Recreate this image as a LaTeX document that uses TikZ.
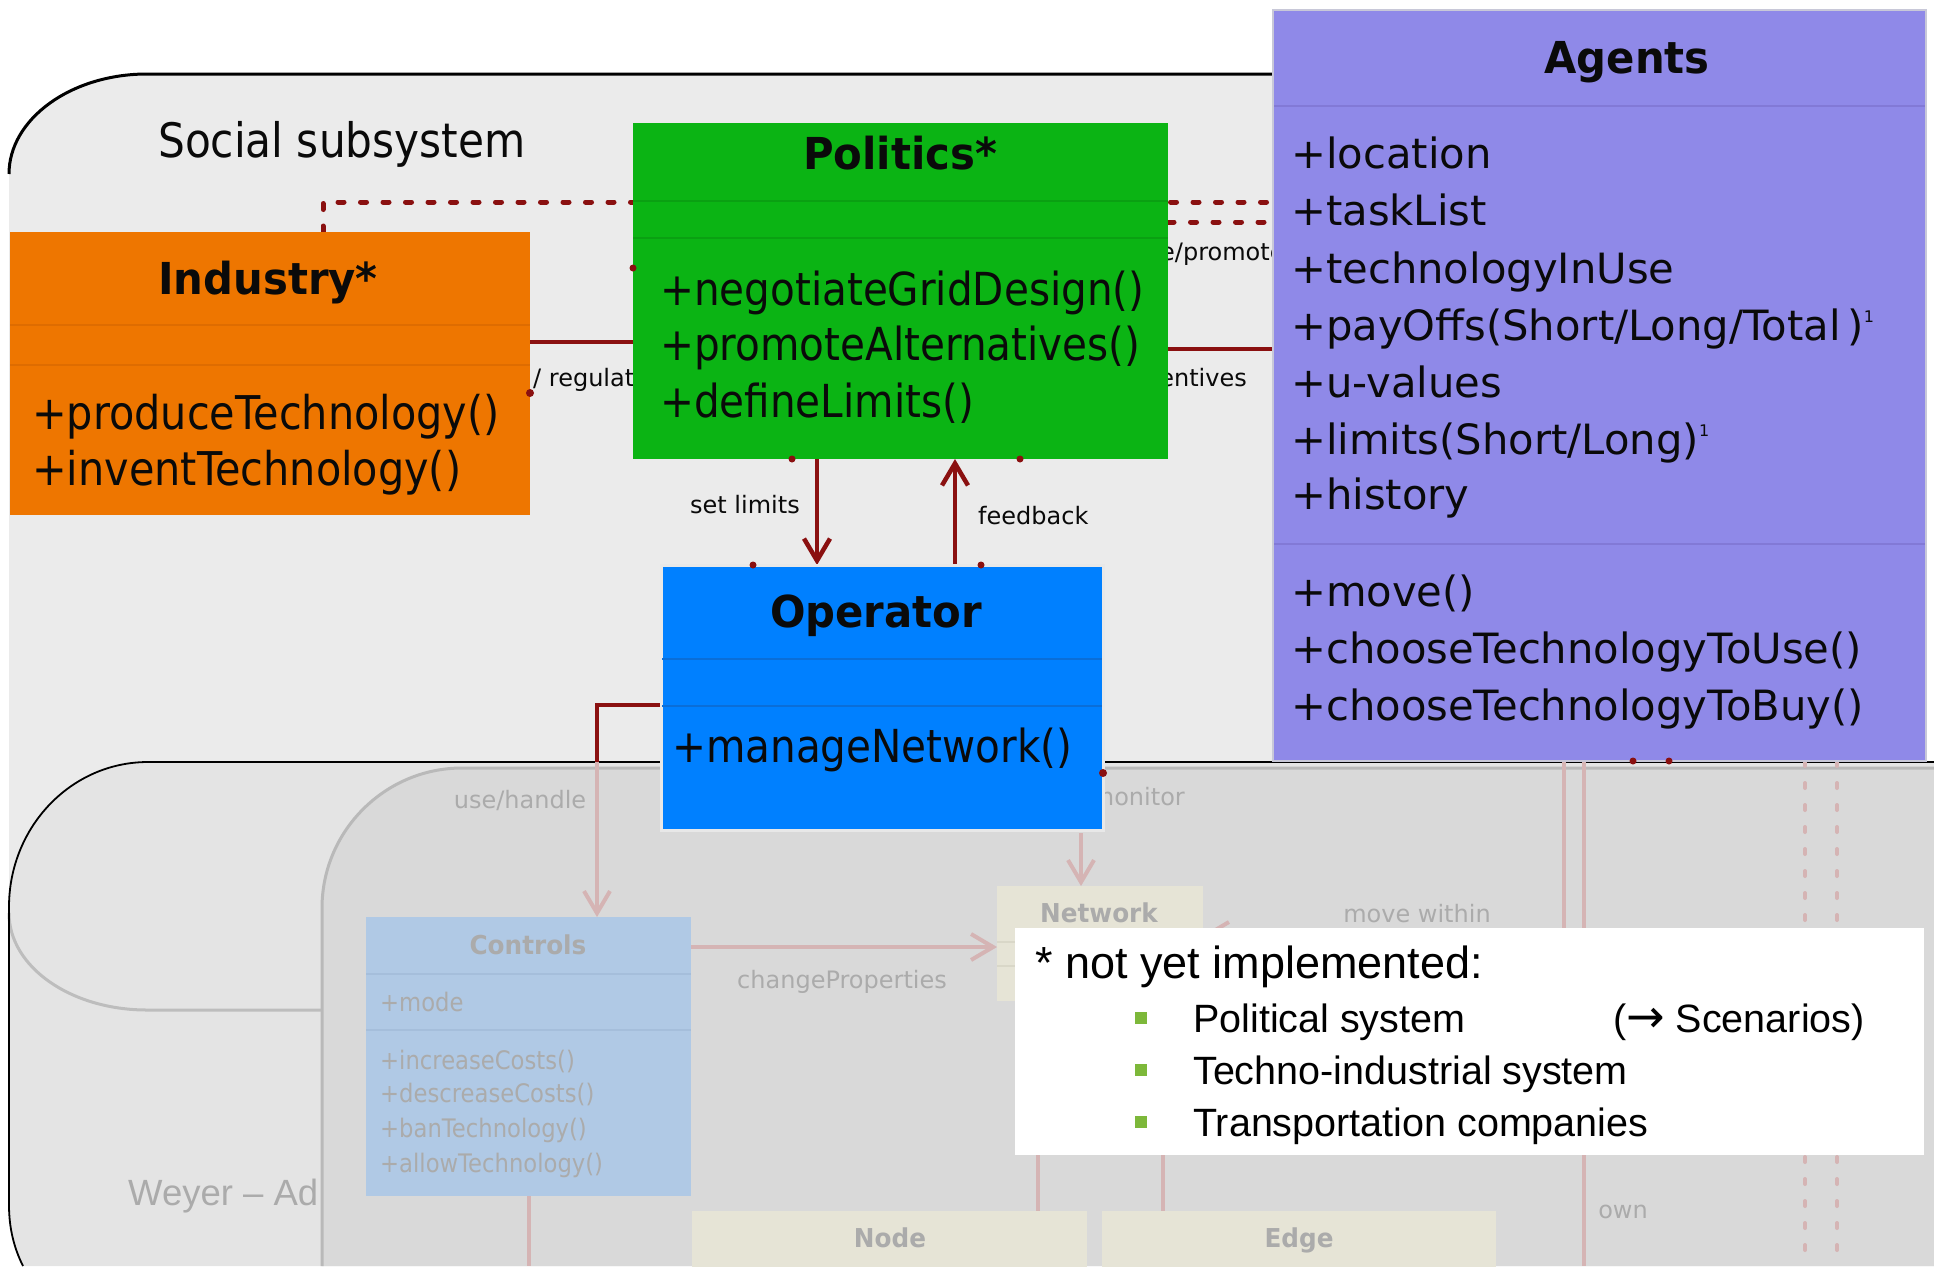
\documentclass[tikz,border=0pt]{standalone}
\usepackage{fontspec}
\usetikzlibrary{arrows.meta}
\newfontfamily\tahfont{DejaVu Sans}[FakeStretch=0.89]
\newfontfamily\tahbfont{DejaVu Sans}[FakeStretch=0.95]
\newfontfamily\verfont{DejaVu Sans}
\newfontfamily\arifont{Liberation Sans}
\definecolor{socbg}{HTML}{EBEBEB}
\definecolor{lowbg}{HTML}{E4E4E4}
\definecolor{innbg}{HTML}{D9D9D9}
\definecolor{innln}{HTML}{B9B9B9}
\definecolor{fadeln}{HTML}{BDBDBD}
\definecolor{indc}{HTML}{EE7600}
\definecolor{indl}{HTML}{DE6C00}
\definecolor{polc}{HTML}{0BB414}
\definecolor{poll}{HTML}{0AA012}
\definecolor{opc}{HTML}{0080FF}
\definecolor{opl}{HTML}{0A6ED8}
\definecolor{opbd}{HTML}{E8E8E8}
\definecolor{agc}{HTML}{8F89E8}
\definecolor{agl}{HTML}{8279D6}
\definecolor{agbd}{HTML}{C8C8D8}
\definecolor{ctlc}{HTML}{B0C9E5}
\definecolor{ctll}{HTML}{A5BEDB}
\definecolor{netc}{HTML}{E6E4D6}
\definecolor{netl}{HTML}{D9D7C8}
\definecolor{dred}{HTML}{8A1010}
\definecolor{pnk}{HTML}{D5B4B4}
\definecolor{fadetx}{HTML}{ABABAB}
\definecolor{bulgr}{HTML}{7DB83A}
\definecolor{txk}{HTML}{0A0A0A}
\newcommand\fmeth{\tahfont\fontsize{45.5}{55}\selectfont}
\newcommand\fmethi{\tahfont\fontsize{46.5}{55}\selectfont}
\newcommand\fttl{\tahbfont\bfseries\fontsize{44}{50}\selectfont}
\newcommand\fagt{\verfont\fontsize{41.7}{50}\selectfont}
\newcommand\fsoc{\tahfont\fontsize{47.5}{55}\selectfont}
\newcommand\flbl{\verfont\fontsize{24}{28}\selectfont}
\newcommand\ffd{\tahfont\fontsize{25.5}{30}\selectfont}
\newcommand\ffdb{\tahbfont\bfseries\fontsize{26}{30}\selectfont}
\newcommand\fwey{\arifont\fontsize{36.5}{40}\selectfont}
\newcommand\fnoteh{\arifont\fontsize{45}{52}\selectfont}
\newcommand\fnotei{\arifont\fontsize{39.5}{46}\selectfont}
\newcommand\supone{\raisebox{18pt}{\verfont\fontsize{16}{16}\selectfont 1}}
\begin{document}
\begin{tikzpicture}[x=1pt,y=-1pt,
  box/.style={inner sep=0, outer sep=0, draw=none, anchor=north west},
  tx/.style={inner sep=0, anchor=base west, text=txk},
  tc/.style={inner sep=0, anchor=base, text=txk},
  fx/.style={inner sep=0, anchor=base west, text=fadetx},
  fc/.style={inner sep=0, anchor=base, text=fadetx},
  redln/.style={draw=dred, line width=4.5},
  reddot/.style={draw=dred, line width=5, line cap=round, dash pattern=on 6pt off 16.5pt},
  pkln/.style={draw=pnk, line width=4},
  pkdash/.style={draw=pnk, line width=4, line cap=round, dash pattern=on 5pt off 17pt},
  arr/.style={-{Straight Barb[length=22pt,width=26pt]}},
  cmp/.style={line width=2}
]
\useasboundingbox (0,0) rectangle (1934,1266);
\fill[white] (0,0) rectangle (1934,1266);

% social subsystem
\fill[socbg] (9,174) .. controls (9,119) and (71,74) .. (147,74) -- (1905,74) -- (1905,1010) -- (147,1010) .. controls (71,1010) and (9,967) .. (9,913) -- cycle;
\draw[line width=3] (9,174) .. controls (9,119) and (71,74) .. (147,74) -- (1280,74);
\node[tx] (soc) at (158,157) {\fsoc Social subsystem};

% lower (faded) region
\fill[lowbg] (23,1266) .. controls (14,1248) and (9,1228) .. (9,1205) -- (9,907) .. controls (9,827) and (71,762) .. (148,762) -- (1934,762) -- (1934,1266) -- cycle;
\node[fx] (wey) at (128,1205) {\fwey Weyer – Ad};
\draw[fadeln, line width=3] (9,913) .. controls (9,967) and (71,1010) .. (147,1010) -- (322,1010);
\fill[innbg] (322,1266) -- (322,908) .. controls (322,831) and (385,768) .. (462,768) -- (1934,768) -- (1934,1266) -- cycle;
\draw[innln, line width=3] (322,1266) -- (322,908) .. controls (322,831) and (385,768) .. (462,768) -- (1934,768);
\draw[line width=1.8] (23,1266) .. controls (14,1248) and (9,1228) .. (9,1205) -- (9,907) .. controls (9,827) and (71,762) .. (148,762) -- (1934,762);

% faded boxes
\node[box, fill=ctlc, minimum width=325, minimum height=279] (ctl) at (366,917) {};
\draw[ctll, cmp] (366,974) -- (691,974);
\draw[ctll, cmp] (366,1030) -- (691,1030);
\node[fc] (ctlT) at (528,954) {\ffdb Controls};
\node[fx] (ctl1) at (380,1011) {\ffd +mode};
\node[fx] (ctl2) at (380,1069) {\ffd +increaseCosts()};
\node[fx] (ctl3) at (380,1102) {\ffd +descreaseCosts()};
\node[fx] (ctl4) at (380,1137) {\ffd +banTechnology()};
\node[fx] (ctl5) at (380,1172) {\ffd +allowTechnology()};

\node[box, fill=netc, minimum width=206, minimum height=115] (net) at (997,886) {};
\draw[netl, cmp] (997,942) -- (1203,942);
\draw[netl, cmp] (997,966) -- (1203,966);
\node[fc] (netT) at (1099,922) {\ffdb Network};
\node[box, fill=netc, minimum width=395, minimum height=80] (nod) at (692,1211) {};
\node[fc] (nodT) at (890,1247) {\ffdb Node};
\node[box, fill=netc, minimum width=394, minimum height=80] (edg) at (1102,1211) {};
\node[fc] (edgT) at (1299,1247) {\ffdb Edge};

\coordinate (agtS) at (1600,761);

% faded connectors
\draw[pkln, arr] (597,762) -- (ctl.north -| 597,0);
\draw[pkln, arr] (1081,833) -- (net.north -| 1081,0);
\draw[pkln, arr] (ctl.east |- 0,947) -- (net.west |- 0,947);
\draw[pkln, arr] (agtS -| 1564,0) -- (1564,935) -- (net.east |- 0,935);
\draw[pkln] (agtS -| 1584,0) -- (1584,1266);
\draw[pkln] (net.south -| 1038,0) -- (nod.north -| 1038,0);
\draw[pkln] (net.south -| 1163,0) -- (edg.north -| 1163,0);
\draw[pkln] (ctl.south -| 529,0) -- (529,1266);
\draw[pkdash] (agtS -| 1805,0) -- (1805,1266);
\draw[pkdash] (agtS -| 1837,0) -- (1837,1266);
\node[fc] (luse) at (520,808) {\flbl use/handle};
\node[fc] (lchg) at (842,988) {\flbl changeProperties};
\node[fc] (lmov) at (1417,922) {\flbl move within};
\node[fc] (lown) at (1623,1218) {\flbl own};
\node[inner sep=0, anchor=base east, text=fadetx] (lmon) at (1185,805) {\flbl monitor};

% labels behind boxes
\node[tx] (lreg) at (533,386) {\flbl / regulate};
\node[tx] (lprom) at (1160,260) {\flbl e/promote};
\node[inner sep=0, anchor=base east, text=txk] (linc) at (1247,386) {\flbl incentives};
\node[tc] (lsl) at (745,513) {\flbl set limits};
\node[tx] (lfb) at (978,524) {\flbl feedback};

% main boxes (named first so connectors can refer to them)
\path (10,232) node[box, minimum width=520, minimum height=283] (ind) {};
\path (633,123) node[box, minimum width=535, minimum height=336] (pol) {};
\path (661,565) node[box, minimum width=442, minimum height=265] (op) {};
\path (1273,10) node[box, minimum width=653, minimum height=751] (agt) {};

% red connectors
\draw[reddot] (ind.north -| 323,0) -- (323,202) -- (agt.west |- 0,202);
\draw[reddot] (pol.east |- 0,222) -- (agt.west |- 0,222);
\draw[redln] (ind.east |- 0,342) -- (pol.west |- 0,342);
\draw[redln] (pol.east |- 0,349) -- (agt.west |- 0,349);
\draw[redln, arr] (pol.south -| 817,0) -- (op.north -| 817,0);
\draw[redln, arr] (op.north -| 955,0) -- (pol.south -| 955,0);
\draw[redln] (op.west |- 0,705) -- (597,705) -- (597,762);

% boxes drawn
\fill[indc] (ind.north west) rectangle (ind.south east);
\draw[indl, cmp] (10,325) -- (530,325);
\draw[indl, cmp] (10,365) -- (530,365);
\node[tc] (indT) at (268,294) {\fttl Industry*};
\node[tx] (ind1) at (32,429) {\fmethi +produceTechnology()};
\node[tx] (ind2) at (32,485) {\fmethi +inventTechnology()};

\fill[polc] (pol.north west) rectangle (pol.south east);
\draw[poll, cmp] (633,201) -- (1168,201);
\draw[poll, cmp] (633,238) -- (1168,238);
\node[tc] (polT) at (900,169) {\fttl Politics*};
\node[tx] (pol1) at (660,305) {\fmeth +negotiateGridDesign()};
\node[tx] (pol2) at (660,360) {\fmeth +promoteAlternatives()};
\node[tx] (pol3) at (660,417) {\fmeth +defineLimits()};

\filldraw[fill=opc, draw=opbd, line width=3] (op.north west) rectangle (op.south east);
\draw[opl, cmp] (662,659) -- (1102,659);
\draw[opl, cmp] (662,706) -- (1102,706);
\node[tc] (opT) at (876,627) {\fttl Operator};
\node[tx] (op1) at (672,762) {\fmeth +manageNetwork()};

\filldraw[fill=agc, draw=agbd, line width=1.5] (agt.north west) rectangle (agt.south east);
\draw[agl, cmp] (1274,106) -- (1925,106);
\draw[agl, cmp] (1274,544) -- (1925,544);
\node[tc] (agtT) at (1627,73) {\fttl Agents};
\node[tx] (ag1) at (1291,168) {\fagt +location};
\node[tx] (ag2) at (1291,225) {\fagt +taskList};
\node[tx] (ag3) at (1291,283) {\fagt +technologyInUse};
\node[tx] (ag4) at (1291,340) {\fagt +payOffs(Short/Long/Total\,)\supone};
\node[tx] (ag5) at (1291,397) {\fagt +u-values};
\node[tx] (ag6) at (1291,454) {\fagt +limits(Short/Long)\supone};
\node[tx] (ag7) at (1291,509) {\fagt +history};
\node[tx] (ag8) at (1291,606) {\fagt +move()};
\node[tx] (ag9) at (1291,663) {\fagt +chooseTechnologyToUse()};
\node[tx] (ag10) at (1291,720) {\fagt +chooseTechnologyToBuy()};

% association end dots
\fill[dred] (pol.west |- 0,268) circle (3.5);
\fill[dred] (ind.east |- 0,393) circle (4);
\fill[dred] (pol.south -| 792,0) circle (3.5);
\fill[dred] (pol.south -| 1020,0) circle (3.5);
\fill[dred] (op.north -| 753,0) circle (3.5);
\fill[dred] (op.north -| 981,0) circle (3.5);
\fill[dred] (op.east |- 0,773) circle (4);
\fill[dred] (agt.south -| 1633,0) circle (3.5);
\fill[dred] (agt.south -| 1669,0) circle (3.5);

% note
\node[box, fill=white, minimum width=909, minimum height=227] (note) at (1015,928) {};
\node[tx, text=black] (nh) at (1035,978) {\fnoteh * not yet implemented:};
\node[fill=bulgr, minimum size=12, inner sep=0] (b1) at (1141,1018) {};
\node[fill=bulgr, minimum size=12, inner sep=0] (b2) at (1141,1070) {};
\node[fill=bulgr, minimum size=12, inner sep=0] (b3) at (1141,1122) {};
\node[tx, text=black] (n1) at (1193,1032) {\fnotei Political system};
\node[tx, text=black] (n1b) at (1613,1032) {\fnotei ({\verfont\fontsize{46}{46}\selectfont →} Scenarios)};
\node[tx, text=black] (n2) at (1193,1084) {\fnotei Techno-industrial system};
\node[tx, text=black] (n3) at (1193,1136) {\fnotei Transportation companies};
\end{tikzpicture}
\end{document}
